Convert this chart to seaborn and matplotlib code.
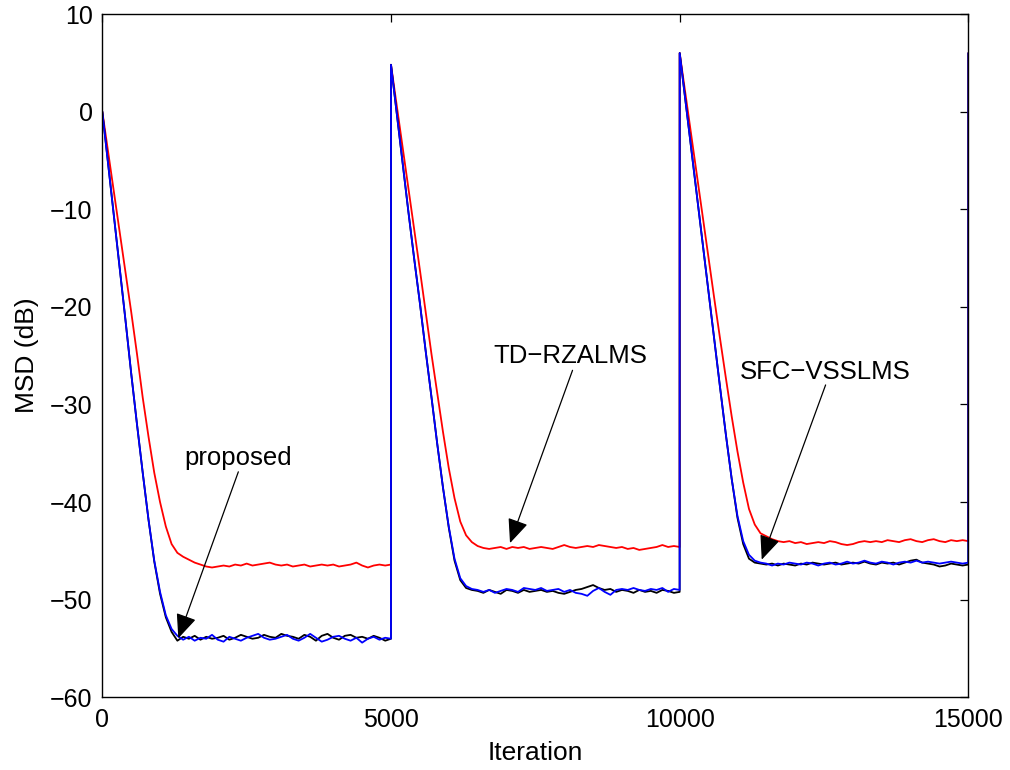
import numpy as np
import pandas as pd
import seaborn as sns
import matplotlib
matplotlib.use("Agg")
import matplotlib.pyplot as plt

# ---------------- data ----------------
segment_starts = [0, 5000, 10000]
offsets = list(range(0, 5000, 100)) + [4999]   # iteration offsets within a segment
final_iteration = 15000

# TD-RZALMS (red)
red_seg1 = [0.0, -4.1, -8.2, -12.3, -16.4, -20.5, -24.8, -29.3, -33.3, -37.0,
            -40.0, -42.5, -44.3, -45.2, -45.6, -45.9, -46.2, -46.4, -46.6, -46.7,
            -46.6, -46.5, -46.6, -46.4, -46.5, -46.3, -46.5, -46.4, -46.3, -46.2,
            -46.4, -46.5, -46.4, -46.6, -46.5, -46.4, -46.6, -46.5, -46.4, -46.5,
            -46.4, -46.6, -46.5, -46.4, -46.2, -46.5, -46.7, -46.5, -46.4, -46.5, -46.4]
red_seg2 = [4.8, 0.6, -3.6, -7.8, -12.0, -16.2, -20.5, -24.8, -28.8, -32.8,
            -36.5, -39.6, -42.0, -43.4, -44.1, -44.5, -44.7, -44.8, -44.7, -44.6,
            -44.8, -44.6, -44.7, -44.6, -44.8, -44.7, -44.6, -44.7, -44.8, -44.6,
            -44.4, -44.6, -44.7, -44.6, -44.5, -44.6, -44.4, -44.5, -44.6, -44.7,
            -44.6, -44.8, -44.7, -44.9, -44.8, -44.7, -44.6, -44.4, -44.6, -44.5, -44.6]
red_seg3 = [6.0, 1.8, -2.4, -6.6, -10.8, -15.0, -19.2, -23.3, -27.3, -31.2,
            -34.8, -38.0, -40.7, -42.3, -43.2, -43.5, -43.8, -44.0, -44.1, -44.0,
            -44.2, -44.1, -44.3, -44.2, -44.1, -44.2, -44.0, -44.1, -44.3, -44.4,
            -44.3, -44.1, -44.0, -44.1, -44.0, -44.1, -43.9, -44.0, -44.1, -43.9,
            -43.8, -44.0, -44.1, -43.9, -43.8, -44.0, -44.1, -43.9, -44.0, -43.9, -44.0]

# proposed (black)
black_seg1 = [0.0, -5.3, -10.7, -16.0, -21.3, -26.8, -32.0, -37.0, -41.8, -46.1,
              -49.4, -51.8, -53.3, -54.2, -53.8, -54.0, -53.7, -54.1, -53.8, -54.0,
              -53.9, -53.7, -54.1, -53.9, -53.6, -53.8, -54.0, -53.9, -53.6, -53.8,
              -53.9, -53.5, -53.7, -53.8, -54.0, -53.6, -53.8, -54.2, -53.7, -53.5,
              -53.9, -54.1, -53.7, -53.6, -53.9, -53.8, -54.0, -53.7, -53.9, -54.2, -54.0]
black_seg2 = [4.8, -0.2, -5.2, -10.2, -15.0, -19.6, -24.5, -29.2, -34.0, -38.5,
              -42.6, -46.0, -48.0, -48.8, -49.0, -49.1, -49.3, -49.0, -49.2, -49.4,
              -49.0, -49.1, -49.3, -49.0, -49.2, -49.1, -49.0, -49.2, -49.1, -49.3,
              -49.4, -49.2, -49.0, -48.9, -48.7, -48.5, -48.8, -49.0, -48.9, -49.2,
              -49.0, -49.1, -49.3, -49.0, -49.2, -49.1, -49.3, -49.0, -49.1, -49.3, -49.2]
black_seg3 = [6.0, 1.1, -3.8, -8.7, -13.6, -18.5, -23.4, -28.3, -33.1, -37.6,
              -41.6, -44.3, -45.8, -46.2, -46.3, -46.4, -46.3, -46.5, -46.3, -46.4,
              -46.5, -46.3, -46.4, -46.2, -46.3, -46.4, -46.3, -46.2, -46.4, -46.3,
              -46.2, -46.3, -46.1, -46.3, -46.4, -46.2, -46.3, -46.2, -46.4, -46.2,
              -46.0, -45.9, -46.2, -46.3, -46.4, -46.6, -46.5, -46.3, -46.4, -46.5, -46.4]

# SFC-VSSLMS (blue)
blue_seg1 = [0.0, -5.3, -10.7, -16.0, -21.3, -26.8, -32.0, -37.0, -41.8, -46.0,
             -49.2, -51.6, -53.0, -53.7, -54.1, -53.8, -54.2, -53.9, -54.0, -53.6,
             -54.1, -54.3, -53.8, -54.0, -54.2, -53.9, -53.7, -53.5, -53.9, -54.1,
             -54.0, -53.8, -53.6, -54.0, -54.2, -53.9, -53.5, -53.9, -54.3, -54.1,
             -53.8, -53.7, -54.0, -54.2, -53.9, -54.4, -54.0, -53.8, -54.1, -53.9, -54.0]
blue_seg2 = [4.8, -0.2, -5.2, -10.2, -15.0, -19.6, -24.5, -29.2, -34.0, -38.5,
             -42.5, -45.8, -47.8, -48.6, -48.9, -49.0, -49.2, -49.0, -49.3, -49.1,
             -48.9, -49.0, -49.2, -48.8, -48.9, -49.0, -48.8, -49.1, -49.0, -48.9,
             -49.2, -49.0, -49.3, -49.4, -49.6, -49.1, -48.8, -49.2, -49.5, -49.0,
             -48.9, -49.0, -48.8, -49.0, -49.1, -48.9, -49.0, -48.8, -49.2, -48.9, -49.0]
blue_seg3 = [6.0, 1.1, -3.8, -8.7, -13.6, -18.5, -23.4, -28.3, -33.1, -37.6,
             -41.4, -44.0, -45.4, -46.0, -46.2, -46.3, -46.5, -46.3, -46.4, -46.2,
             -46.3, -46.4, -46.2, -46.3, -46.5, -46.3, -46.2, -46.4, -46.3, -46.1,
             -46.3, -46.2, -46.0, -46.2, -46.3, -46.1, -46.2, -46.4, -46.2, -46.1,
             -46.2, -46.0, -46.2, -46.1, -46.2, -46.3, -46.2, -46.1, -46.2, -46.3, -46.2]

final_value = 6.0

series_names = ["TD\u2212RZALMS", "proposed", "SFC\u2212VSSLMS"]
series_colors = ["#ff0000", "#000000", "#0000ff"]
series_segments = [
    [red_seg1, red_seg2, red_seg3],
    [black_seg1, black_seg2, black_seg3],
    [blue_seg1, blue_seg2, blue_seg3],
]

# annotations: (label, text x, text y, arrow start x, arrow start y, tip x, tip y)
annotations = [
    ("proposed", 2356, -36.2, 2356, -36.9, 1316, -53.95),
    ("TD\u2212RZALMS", 8113, -25.8, 8144, -26.5, 7061, -44.2),
    ("SFC\u2212VSSLMS", 12518, -27.4, 12527, -28.0, 11421, -45.9),
]

# ---------------- build long table ----------------
rows = []
for name, segs in zip(series_names, series_segments):
    for start, vals in zip(segment_starts, segs):
        for off, v in zip(offsets, vals):
            rows.append((start + off, v, name))
    rows.append((final_iteration, final_value, name))
df = pd.DataFrame(rows, columns=["Iteration", "MSD", "Algorithm"])

# ---------------- style ----------------
sns.set_theme(style="white")
plt.rcParams["font.family"] = ["Liberation Sans", "DejaVu Sans"]
plt.rcParams["axes.unicode_minus"] = True

fig = plt.figure(figsize=(10.1, 7.7), dpi=100)
ax = fig.add_axes([0.1013, 0.0944, 0.8575, 0.8874])

sns.lineplot(data=df, x="Iteration", y="MSD", hue="Algorithm",
             hue_order=series_names, palette=dict(zip(series_names, series_colors)),
             estimator=None, sort=False, legend=False, linewidth=1.3, ax=ax)

ax.set_xlim(0, 15000)
ax.set_ylim(-60, 10)
ax.set_xticks([0, 5000, 10000, 15000])
ax.set_yticks(list(range(-60, 11, 10)))

for s in ax.spines.values():
    s.set_visible(True)
    s.set_color("black")
    s.set_linewidth(1.0)

ax.tick_params(axis="both", which="both", direction="in", top=True, right=True,
               length=6, width=0.9, color="black", labelsize=18, labelcolor="black")
ax.tick_params(axis="x", pad=8)
ax.tick_params(axis="y", pad=7)

ax.set_xlabel("Iteration", fontsize=19, color="black")
ax.set_ylabel("MSD (dB)", fontsize=19, color="black")
ax.xaxis.set_label_coords(0.5, -0.064)
ax.yaxis.set_label_coords(-0.073, 0.5)

for label, tx, ty, sx, sy, hx, hy in annotations:
    ax.text(tx, ty, label, fontsize=18.5, ha="center", va="baseline", color="black")
    ax.annotate("", xy=(hx, hy), xytext=(sx, sy),
                arrowprops=dict(arrowstyle="-|>,head_length=0.75,head_width=0.32",
                                mutation_scale=20, color="black", lw=0.9,
                                shrinkA=0, shrinkB=0))

fig.savefig("out.png", dpi=100)
